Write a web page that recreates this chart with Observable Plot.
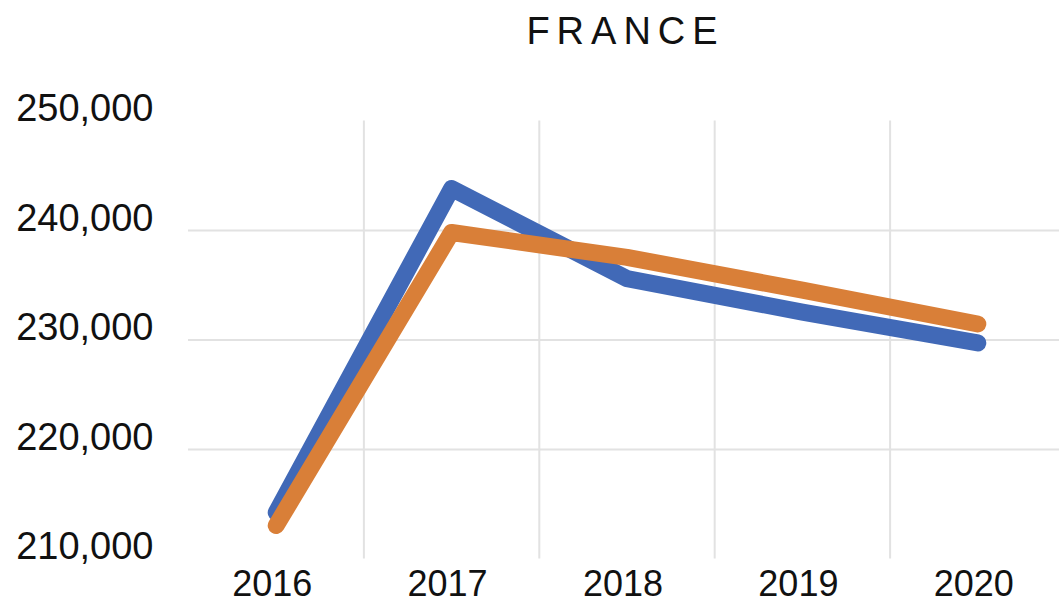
<!DOCTYPE html>
<html>
<head>
<meta charset="utf-8">
<script src="https://cdn.jsdelivr.net/npm/d3@7"></script>
<script src="https://cdn.jsdelivr.net/npm/@observablehq/plot@0.6"></script>
<style>
  html, body { margin: 0; padding: 0; background: #fff; overflow: hidden; }
  #title {
    height: 60px; box-sizing: border-box; padding-top: 12px;
    margin-left: 188px; width: 875px; text-align: center;
    font-family: Helvetica, "Liberation Sans", Arial, sans-serif;
    font-size: 38px; line-height: 38px; letter-spacing: 7px; color: #111;
  }
</style>
</head>
<body>
<div id="title">FRANCE</div>
<div id="chart"></div>
<script>
const years = [2016, 2017, 2018, 2019, 2020];
const seriesNames = ["Series 1", "Series 2"];
const series1 = [214250, 243840, 235600, 232550, 229730];
const series2 = [213060, 239820, 237550, 234550, 231460];
const seriesColors = ["#4169B7", "#D97F38"];
const yTicks = [210000, 220000, 230000, 240000, 250000];
const yGrid = [220000, 230000, 240000];

const data = [];
[series1, series2].forEach((vals, s) => {
  vals.forEach((v, i) => data.push({ year: years[i], value: v, series: seriesNames[s] }));
});
const xBounds = years.slice(1).map(y => y - 0.5);

const font = 'Helvetica, "Liberation Sans", Arial, sans-serif';

const chart = Plot.plot({
  width: 1059,
  height: 544,
  marginTop: 60.5,
  marginBottom: 45.5,
  marginLeft: 188,
  marginRight: -6,
  style: { fontFamily: font, fontSize: "38px", color: "#111", background: "#fff", overflow: "visible" },
  x: { domain: [years[0] - 0.5, years[years.length - 1] + 0.5] },
  y: { domain: [yTicks[0], yTicks[yTicks.length - 1]] },
  color: { domain: seriesNames, range: seriesColors },
  marks: [
    Plot.gridY(yGrid, { stroke: "#e2e2e2", strokeOpacity: 1, strokeWidth: 2 }),
    Plot.gridX(xBounds, { stroke: "#e2e2e2", strokeOpacity: 1, strokeWidth: 2 }),
    Plot.axisY(yTicks, { tickSize: 0, tickPadding: 35, tickFormat: d3.format(","), dy: -12, fontSize: 38, label: null }),
    Plot.axisX(years, { tickSize: 0, tickPadding: 11, tickFormat: d => String(d), dx: -4, fontSize: 36, label: null }),
    Plot.line(data, {
      x: "year", y: "value", stroke: "series", z: "series",
      strokeWidth: 17, strokeLinecap: "round", strokeLinejoin: "round"
    })
  ]
});
document.getElementById("chart").appendChild(chart);
</script>
</body>
</html>
